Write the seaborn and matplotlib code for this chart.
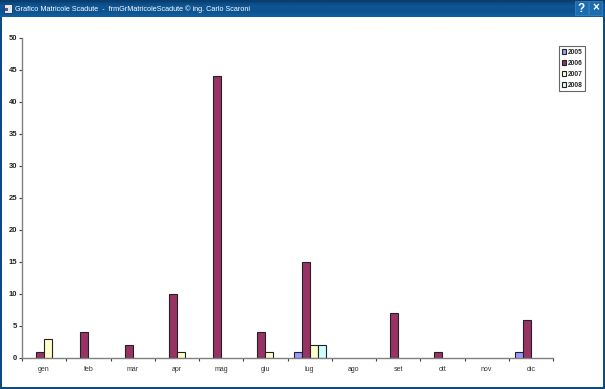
#!/usr/bin/env python3
#
# Grafico matricole scadute: expired registrations per month and year
#
import numpy as np
import pandas as pd
import matplotlib
matplotlib.use('Agg')
import matplotlib.pyplot as plt
from matplotlib.patches import Rectangle
import seaborn as sns

W, H = 605, 389

months = ['gen', 'feb', 'mar', 'apr', 'mag', 'giu', 'lug', 'ago', 'set', 'ott', 'nov', 'dic']
years = ['2005', '2006', '2007', '2008']
v2005 = [None, None, None, None, None, None, 1, None, None, None, None, 1]
v2006 = [1, 4, 2, 10, 44, 4, 15, None, 7, 1, None, 6]
v2007 = [3, None, None, 1, None, 1, 2, None, None, None, None, None]
v2008 = [None, None, None, None, None, None, 2, None, None, None, None, None]
colors = ['#9999ff', '#993366', '#ffffcc', '#ccffff']
yticks = [0, 5, 10, 15, 20, 25, 30, 35, 40, 45, 50]

title = 'Grafico Matricole Scadute  -  frmGrMatricoleScadute © ing. Carlo Scaroni'

df = pd.DataFrame({
    'mese': months * 4,
    'anno': np.repeat(years, 12),
    'n': pd.to_numeric(pd.Series(v2005 + v2006 + v2007 + v2008), errors='coerce'),
})

sns.set_style('white')
plt.rcParams['font.family'] = ['Liberation Sans', 'DejaVu Sans']

fig = plt.figure(figsize=(W / 100, H / 100), dpi=100, facecolor='white')


# Pixel rectangle (from top left) to figure fractions
def box(x0, y0, x1, y1):
    return [x0 / W, 1 - y1 / H, (x1 - x0) / W, (y1 - y0) / H]


# Window frame
def frame(x0, y0, x1, y1, color):
    l, b, w, h = box(x0, y0, x1, y1)
    fig.add_artist(Rectangle((l, b), w, h, transform=fig.transFigure, fc=color, ec='none', zorder=5))


frame(0, 0, 2, H, '#0b4a82')
frame(W - 2, 0, W, H, '#0b4a82')
frame(0, H - 2, W, H, '#0b4a82')

bar = fig.add_axes(box(0, 0, W, 17), zorder=6)
bar.imshow(np.array([[0.0], [0.35], [0.6], [0.55], [0.5], [0.62], [0.8]]),
           aspect='auto',
           cmap=matplotlib.colors.LinearSegmentedColormap.from_list('t', ['#0a3d70', '#0f5fa0']))
bar.axis('off')
bar.text(15 / W, 0.47, title, transform=bar.transAxes, color='white', fontsize=5.2,
         va='center', ha='left')
bar.add_patch(Rectangle((4 / W, 0.25), 8 / W, 0.5, transform=bar.transAxes, fc='#dfe6f2', ec='#203050', lw=0.6))
bar.add_patch(Rectangle((5 / W, 0.35), 3 / W, 0.2, transform=bar.transAxes, fc='#3a5fa8', ec='none'))
for x, s in ((581.5, '?'), (595.5, '×')):
    bar.add_patch(Rectangle(((x - 6.5) / W, 0.12), 13 / W, 0.8, transform=bar.transAxes,
                            fc='#1a6cb0', ec='#3d86c0', lw=0.5))
    bar.text(x / W, 0.5, s, transform=bar.transAxes, color='white', fontsize=8.5, fontweight='bold',
             ha='center', va='center')

# Chart
ax = fig.add_axes(box(22, 38, 553, 358))
sns.barplot(data=df, x='mese', y='n', hue='anno', order=months, hue_order=years, palette=colors,
            saturation=1, width=0.72, gap=0, edgecolor='#222222', linewidth=0.8, ax=ax)
ax.set_xlim(-0.5, 11.5)
ax.set_ylim(0, 50)
ax.set_yticks(yticks)
ax.set_xticks(np.arange(-0.5, 12), minor=True)
ax.set_xlabel('')
ax.set_ylabel('')
for side in ('top', 'right'):
    ax.spines[side].set_visible(False)
for side in ('left', 'bottom'):
    ax.spines[side].set_color('#808080')
    ax.spines[side].set_linewidth(1)
ax.tick_params(axis='y', left=True, length=2, width=0.8, color='#404040', pad=1.5,
               labelsize=5.5, labelcolor='#222222')
ax.tick_params(axis='x', which='major', bottom=False, pad=2.5, labelsize=5, labelcolor='#333333')
ax.tick_params(axis='x', which='minor', bottom=True, length=2, width=0.8, color='#404040')
for t in ax.get_yticklabels():
    t.set_fontweight('bold')

handles, labels = ax.get_legend_handles_labels()
ax.get_legend().remove()
leg = fig.legend(handles, labels, loc='upper left', bbox_to_anchor=(559 / W, 1 - 46 / H),
                 frameon=True, fancybox=False, prop={'size': 4.8, 'weight': 'bold'},
                 handlelength=0.65, handleheight=0.65, handletextpad=0.25, labelspacing=0.6,
                 borderpad=0.4, borderaxespad=0, framealpha=1)
leg.get_frame().set_edgecolor('#666666')
leg.get_frame().set_linewidth(0.8)

fig.savefig('out.png', dpi=100)
